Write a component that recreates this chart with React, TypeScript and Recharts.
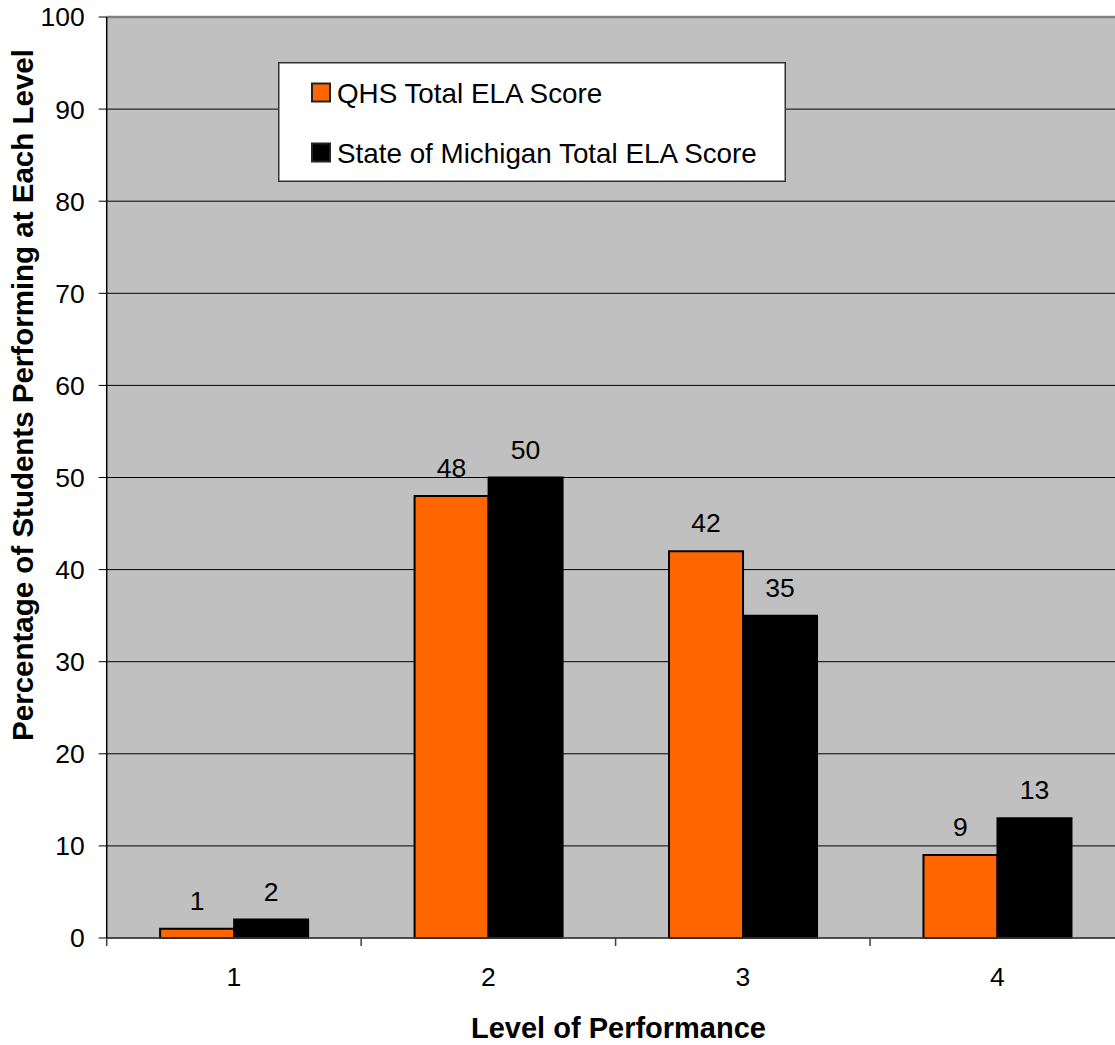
import React from 'react';
import { BarChart, Bar, XAxis, YAxis, CartesianGrid, Legend, LabelList, ReferenceLine } from 'recharts';

const categories = ['1', '2', '3', '4'];
const qhsValues = [1, 48, 42, 9];
const michiganValues = [2, 50, 35, 13];
const yTicks = [0, 10, 20, 30, 40, 50, 60, 70, 80, 90, 100];
const seriesNames = ['QHS Total ELA Score', 'State of Michigan Total ELA Score'];
const seriesColors = ['#FF6600', '#000000'];
const xTitle = 'Level of Performance';
const yTitle = 'Percentage of Students Performing at Each Level';

const data = categories.map((c, i) => ({ level: c, pos: i + 0.5, qhs: qhsValues[i], mi: michiganValues[i] }));
// boundary ticks at integers, labels at half positions
const numTicks: number[] = [];
categories.forEach((_, i) => { numTicks.push(i); numTicks.push(i + 0.5); });
numTicks.push(categories.length);

const FONT = '"Liberation Sans", Arial, sans-serif';

const XTick = (props: any) => {
  const { x, y, payload } = props;
  const v = payload.value as number;
  if (Number.isInteger(v)) {
    return <line x1={x} y1={y} x2={x} y2={y + 8} stroke="#404040" strokeWidth={1.5} />;
  }
  const label = categories[Math.floor(v)];
  return (
    <text x={x} y={y + 48} textAnchor="middle" fontSize={26.5} fill="#000" fontFamily={FONT}>
      {label}
    </text>
  );
};

const renderLegend = () => (
  <svg width={508} height={120} style={{ display: 'block' }}>
    <rect x={0.75} y={0.75} width={506.5} height={118.5} fill="#fff" stroke="#333" strokeWidth={1.5} />
    {seriesNames.map((name, i) => (
      <g key={name}>
        <rect x={34} y={21.5 + i * 60} width={18} height={18} fill={seriesColors[i]} stroke="#222" strokeWidth={2} />
        <text x={59} y={41 + i * 60} fontSize={27.8} fontFamily={FONT} fill="#000">{name}</text>
      </g>
    ))}
  </svg>
);

export default function App() {
  return (
    <div style={{ position: 'absolute', left: 0, top: 0, width: 1115, height: 1045, overflow: 'hidden', background: '#fff' }}>
      <BarChart
        width={1130}
        height={1045}
        data={data}
        margin={{ top: 17, right: 5.5, left: 0, bottom: 0 }}
        barCategoryGap="21%"
        barGap={0}
        style={{ fontFamily: FONT }}
      >
        <CartesianGrid xAxisId="num" vertical={false} stroke="#000" strokeWidth={1} fill="#C0C0C0" fillOpacity={1} />
        <XAxis xAxisId="cat" dataKey="level" hide height={0} />
        <XAxis
          xAxisId="num"
          dataKey="pos"
          type="number"
          domain={[0, categories.length]}
          allowDataOverflow
          ticks={numTicks}
          interval={0}
          tickLine={false}
          tickSize={0}
          tickMargin={0}
          tick={<XTick />}
          axisLine={{ stroke: '#404040', strokeWidth: 1.5 }}
          height={107}
          label={{
            content: () => (
              <text x={618.5} y={1038} textAnchor="middle" fontSize={29} fontWeight="bold" fontFamily={FONT} fill="#000">
                {xTitle}
              </text>
            ),
          }}
        />
        <YAxis
          domain={[0, 100]}
          ticks={yTicks}
          interval={0}
          width={106.7}
          tickSize={8}
          tickMargin={14}
          tickLine={{ stroke: '#000' }}
          axisLine={{ stroke: '#000', strokeWidth: 1.5 }}
          tick={{ fontSize: 26.5, fill: '#000', fontFamily: FONT }}
          label={{
            content: () => (
              <text
                x={33}
                y={395}
                transform="rotate(-90, 33, 395)"
                textAnchor="middle"
                fontSize={29.5}
                fontWeight="bold"
                fontFamily={FONT}
                fill="#000"
              >
                {yTitle}
              </text>
            ),
          }}
        />
        <ReferenceLine xAxisId="num" y={100} stroke="#808080" strokeWidth={2.5} />
        <Legend
          layout="vertical"
          verticalAlign="middle"
          align="center"
          content={renderLegend}
          wrapperStyle={{ position: 'absolute', left: 278, top: 62, width: 508, height: 120 }}
        />
        <Bar xAxisId="cat" dataKey="qhs" name={seriesNames[0]} fill={seriesColors[0]} stroke="#000" strokeWidth={2} isAnimationActive={false}>
          <LabelList dataKey="qhs" position="top" offset={19} fill="#000" fontSize={26.5} fontFamily={FONT} />
        </Bar>
        <Bar xAxisId="cat" dataKey="mi" name={seriesNames[1]} fill={seriesColors[1]} stroke="#000" strokeWidth={2} isAnimationActive={false}>
          <LabelList dataKey="mi" position="top" offset={19} fill="#000" fontSize={26.5} fontFamily={FONT} />
        </Bar>
      </BarChart>
    </div>
  );
}
